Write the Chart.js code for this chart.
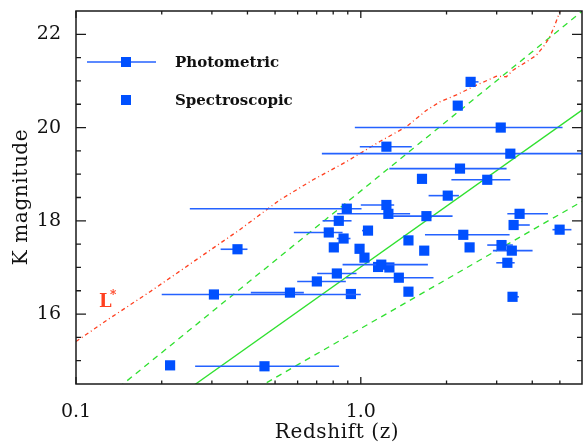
<!DOCTYPE html>
<html>
<head>
<meta charset="utf-8">
<script src="https://cdn.jsdelivr.net/npm/chart.js@4.4.1/dist/chart.umd.min.js"></script>
<style>
html,body{margin:0;padding:0;background:#fff;overflow:hidden;}
canvas{display:block;}
</style>
</head>
<body>
<canvas id="kz" width="583" height="443"></canvas>
<script>
// photometric redshifts: z, K and the z range of each estimate
const photZ   = [2.43, 3.10, 1.23, 3.35, 2.23, 2.78, 2.02, 0.893, 1.23, 1.25, 1.70, 0.837, 0.772, 0.870, 1.06, 2.29, 3.61, 3.44, 4.99, 3.12, 3.39, 3.27, 3.41, 1.18, 1.36, 0.824, 0.701, 0.564, 0.305, 0.369, 0.459];
const photK   = [20.98, 20.00, 19.59, 19.44, 19.12, 18.88, 18.54, 18.26, 18.34, 18.15, 18.10, 18.00, 17.75, 17.62, 17.79, 17.70, 18.15, 17.91, 17.81, 17.48, 17.36, 17.10, 16.37, 17.06, 16.78, 16.87, 16.70, 16.46, 16.42, 17.39, 14.88];
const photZlo = [2.36, 0.953, 0.992, 0.730, 1.26, 2.08, 1.73, 0.251, 1.00, 0.826, 1.30, 0.734, 0.582, 0.824, 1.01, 1.68, 3.27, 3.33, 4.71, 2.78, 2.91, 2.99, 3.36, 0.863, 0.886, 0.703, 0.598, 0.411, 0.200, 0.322, 0.262];
const photZhi = [2.59, 5.11, 1.51, 7.00, 3.25, 3.35, 2.21, 1.006, 1.31, 1.49, 2.10, 0.928, 0.863, 0.920, 1.10, 3.33, 4.54, 3.92, 5.49, 3.42, 4.01, 3.47, 3.59, 1.72, 1.80, 0.966, 0.886, 0.631, 1.00, 0.400, 0.839];

// spectroscopic redshifts
const specZ = [2.19, 1.64, 0.804, 0.990, 1.03, 1.47, 1.67, 2.41, 1.15, 1.26, 0.923, 1.47, 0.214];
const specK = [20.47, 18.90, 17.43, 17.40, 17.21, 17.58, 17.36, 17.43, 17.01, 17.00, 16.43, 16.48, 14.90];

// L* galaxy track
const lstarZ = [0.1, 0.13, 0.182, 0.376, 0.520, 0.680, 0.891, 1.166, 1.447, 1.701, 1.893, 2.167, 2.547, 2.994, 3.245, 3.422, 3.815, 4.135, 4.421, 4.605, 4.796, 4.993, 5.15];
const lstarK = [15.41, 15.89, 16.48, 17.81, 18.45, 18.88, 19.27, 19.70, 20.02, 20.37, 20.55, 20.70, 20.91, 21.10, 21.09, 21.23, 21.41, 21.55, 21.77, 21.94, 22.19, 22.48, 22.75];

// K-z relation and its upper / lower envelopes
const relZ   = [0.1, 6.0];
const relK   = [12.68, 20.38];
const upperK = [13.68, 22.50];
const lowerK = [12.18, 18.42];

// axis ticks
const xTicks = [0.1, 0.2, 0.3, 0.4, 0.5, 0.6, 0.7, 0.8, 0.9, 1, 2, 3, 4, 5];
const xMajor = [0.1, 1];
const xLabels = {0.1: '0.1', 1: '1.0'};
const yTicks = [15, 15.5, 16, 16.5, 17, 17.5, 18, 18.5, 19, 19.5, 20, 20.5, 21, 21.5, 22];
const yMajor = [16, 18, 20, 22];

const serif = "'DejaVu Serif', 'Liberation Serif', serif";
const blue = '#0050ff';
const barBlue = '#2462ff';
const green = '#30e030';
const red = '#ff4020';

const pts = (xs, ys) => xs.map((v, i) => ({x: v, y: ys[i]}));

// keep the plot box fixed: no extra room for edge labels
function noPadding(s) {
    s.paddingLeft = 0;
    s.paddingRight = 0;
    s.paddingTop = 0;
    s.paddingBottom = 0;
}

// horizontal z ranges, drawn just before the photometric squares
const errorBars = {
    id: 'errorBars',
    beforeDatasetDraw(chart, args) {
        if (args.index !== 0) return;
        const {ctx, chartArea: a, scales: {x, y}} = chart;
        ctx.save();
        ctx.beginPath();
        ctx.rect(a.left, a.top, a.right - a.left, a.bottom - a.top);
        ctx.clip();
        ctx.strokeStyle = barBlue;
        ctx.lineWidth = 1.6;
        for (let i = 0; i < photZ.length; i++) {
            const py = y.getPixelForValue(photK[i]);
            ctx.beginPath();
            ctx.moveTo(x.getPixelForValue(photZlo[i]), py);
            ctx.lineTo(x.getPixelForValue(photZhi[i]), py);
            ctx.stroke();
        }
        ctx.restore();
    }
};

// boxed frame with inward ticks, legend, labels and axis titles
const frame = {
    id: 'frame',
    afterDatasetsDraw(chart) {
        const {ctx, chartArea: a, scales: {x, y}} = chart;
        ctx.save();
        ctx.strokeStyle = '#1a1a1a';
        ctx.lineWidth = 1.3;
        ctx.beginPath();
        xTicks.forEach(v => {
            const px = x.getPixelForValue(v);
            const len = xMajor.includes(v) ? 7 : 3.5;
            ctx.moveTo(px, a.bottom); ctx.lineTo(px, a.bottom - len);
            ctx.moveTo(px, a.top); ctx.lineTo(px, a.top + len);
        });
        yTicks.forEach(v => {
            const py = y.getPixelForValue(v);
            const len = yMajor.includes(v) ? 10 : 5;
            ctx.moveTo(a.left, py); ctx.lineTo(a.left + len, py);
            ctx.moveTo(a.right, py); ctx.lineTo(a.right - len, py);
        });
        ctx.stroke();
        ctx.lineWidth = 1.5;
        ctx.strokeRect(a.left, a.top, a.right - a.left, a.bottom - a.top);

        // legend
        ctx.strokeStyle = barBlue;
        ctx.lineWidth = 1.6;
        ctx.beginPath();
        ctx.moveTo(87, 62); ctx.lineTo(156, 62);
        ctx.stroke();
        ctx.fillStyle = blue;
        ctx.fillRect(121, 57, 10, 10);
        ctx.fillRect(121, 95, 10, 10);
        ctx.fillStyle = '#111';
        ctx.font = 'bold 15px ' + serif;
        ctx.textAlign = 'left';
        ctx.textBaseline = 'alphabetic';
        ctx.fillText('Photometric', 175, 66.5);
        ctx.fillText('Spectroscopic', 175, 104.5);

        // L* label
        ctx.fillStyle = red;
        ctx.font = 'bold 18px ' + serif;
        ctx.fillText('L', 99, 306.5);
        ctx.font = 'bold 12px ' + serif;
        ctx.fillText('*', 110, 299);

        // axis titles
        ctx.fillStyle = '#111';
        ctx.font = '20px ' + serif;
        ctx.letterSpacing = '0.6px';
        ctx.textAlign = 'center';
        ctx.fillText('Redshift (z)', 337, 438);
        ctx.translate(26.5, 197);
        ctx.rotate(-Math.PI / 2);
        ctx.fillText('K magnitude', 0, 0);
        ctx.restore();
    }
};

new Chart(document.getElementById('kz'), {
    type: 'scatter',
    data: {
        datasets: [
            {
                label: 'Photometric',
                data: pts(photZ, photK),
                pointStyle: 'rect',
                pointRadius: 7.2,
                borderWidth: 0,
                backgroundColor: blue,
                order: 1
            },
            {
                label: 'Spectroscopic',
                data: pts(specZ, specK),
                pointStyle: 'rect',
                pointRadius: 7.2,
                borderWidth: 0,
                backgroundColor: blue,
                order: 1
            },
            {
                type: 'line',
                label: 'L*',
                data: pts(lstarZ, lstarK),
                borderColor: red,
                borderWidth: 1.3,
                borderDash: [4, 3, 1, 3],
                pointRadius: 0,
                tension: 0,
                order: 5
            },
            {
                type: 'line',
                label: 'K-z',
                data: pts(relZ, relK),
                borderColor: green,
                borderWidth: 1.3,
                pointRadius: 0,
                order: 5
            },
            {
                type: 'line',
                label: 'upper',
                data: pts(relZ, upperK),
                borderColor: green,
                borderWidth: 1.3,
                borderDash: [6, 5],
                pointRadius: 0,
                order: 5
            },
            {
                type: 'line',
                label: 'lower',
                data: pts(relZ, lowerK),
                borderColor: green,
                borderWidth: 1.3,
                borderDash: [6, 5],
                pointRadius: 0,
                order: 5
            }
        ]
    },
    options: {
        responsive: false,
        animation: false,
        events: [],
        layout: {autoPadding: false, padding: {top: 11, right: 1, left: 0, bottom: 0}},
        plugins: {legend: {display: false}, tooltip: {enabled: false}},
        scales: {
            x: {
                type: 'logarithmic',
                min: 0.1,
                max: 5.98,
                bounds: 'data',
                grid: {display: false},
                border: {display: false},
                afterBuildTicks: s => { s.ticks = xTicks.map(v => ({value: v})); },
                afterFit: s => { s.height = 59; noPadding(s); },
                ticks: {
                    autoSkip: false,
                    maxRotation: 0,
                    padding: 9,
                    color: '#111',
                    font: {family: serif, size: 19},
                    callback: v => xLabels[v] || ''
                }
            },
            y: {
                type: 'linear',
                min: 14.5,
                max: 22.5,
                grid: {display: false},
                border: {display: false},
                afterBuildTicks: s => { s.ticks = yTicks.map(v => ({value: v})); },
                afterFit: s => { s.width = 76; noPadding(s); },
                ticks: {
                    autoSkip: false,
                    padding: 7,
                    color: '#111',
                    font: {family: serif, size: 19},
                    callback: v => yMajor.includes(v) ? String(v) : ''
                }
            }
        }
    },
    plugins: [errorBars, frame]
});
</script>
</body>
</html>
